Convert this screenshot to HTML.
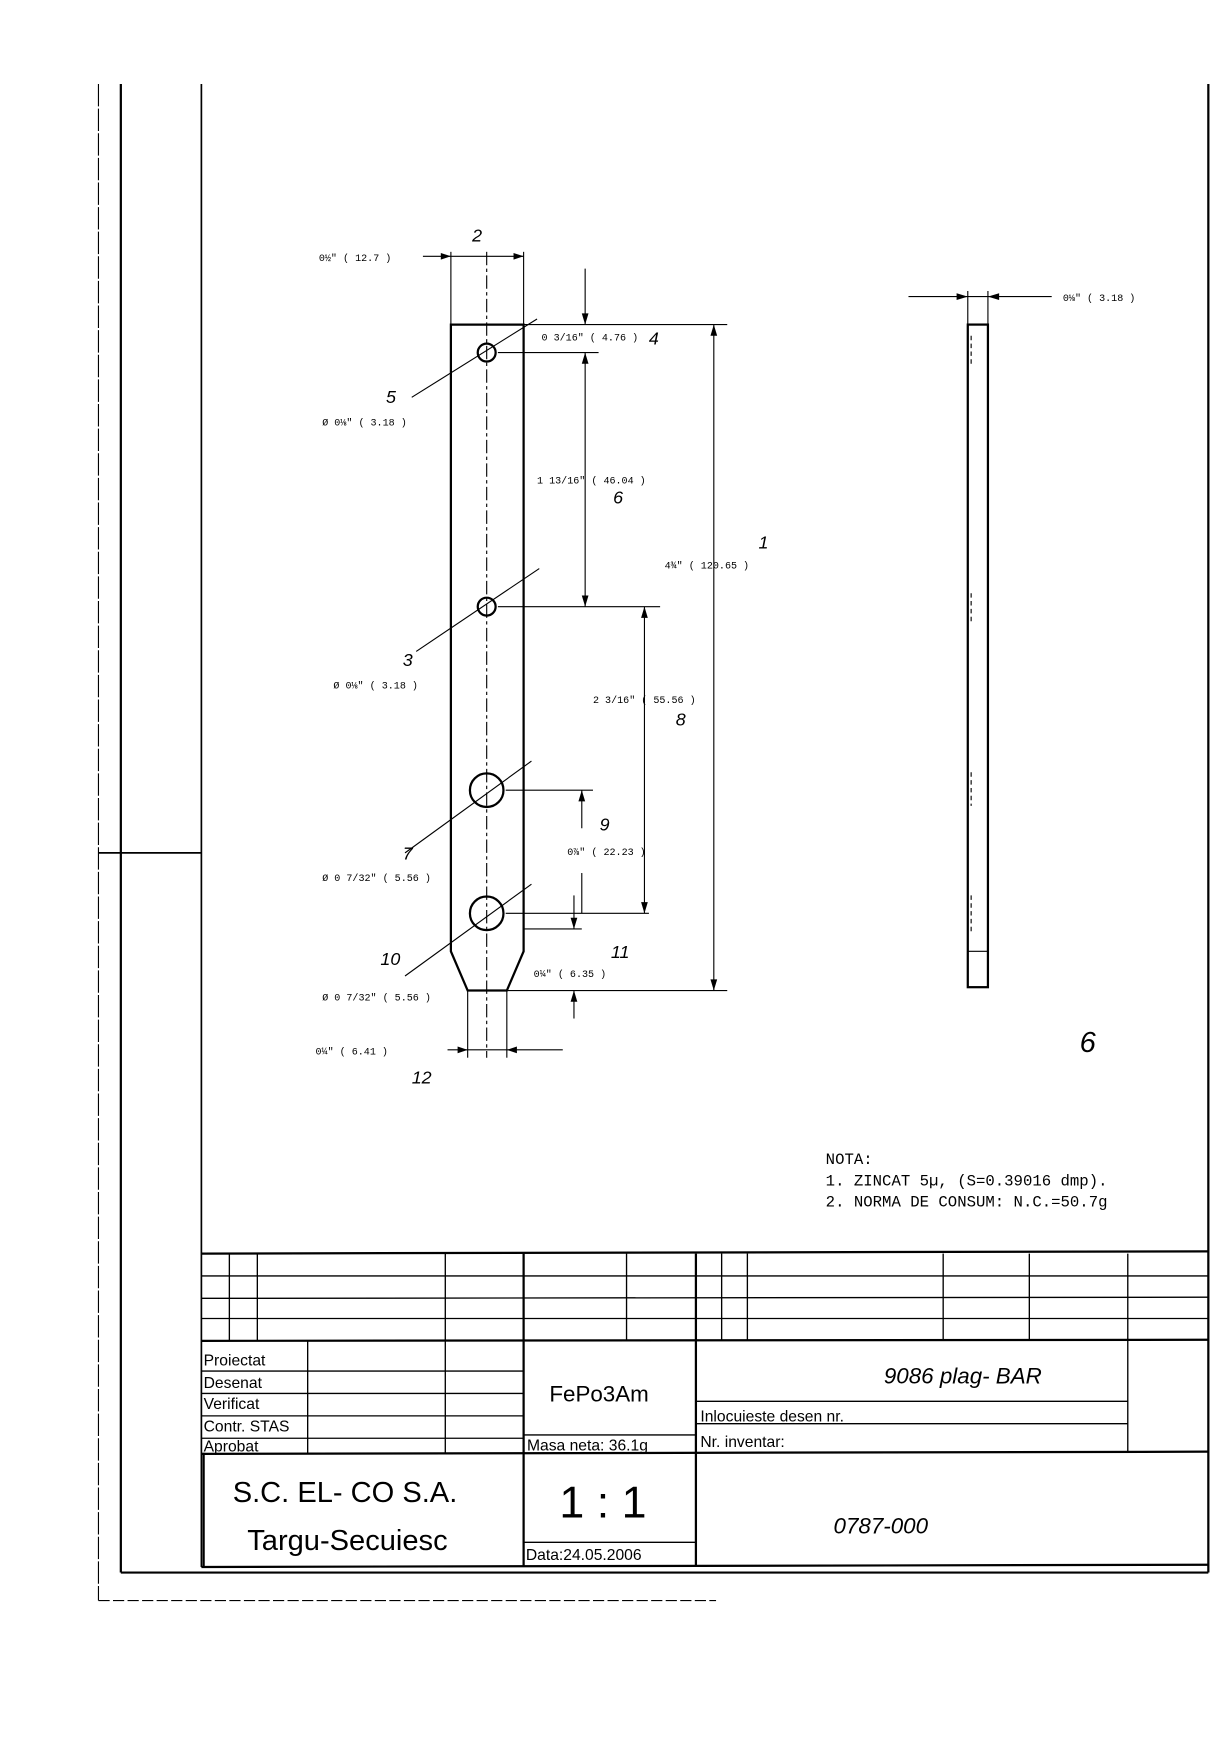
<!DOCTYPE html>
<html><head><meta charset="utf-8"><style>
html,body{margin:0;padding:0;background:#fff;}
svg{display:block;}
text{font-family:"Liberation Sans",sans-serif;fill:#000;}
text.m, .m text{font-family:"Liberation Mono",monospace;}
</style></head><body>
<svg width="1224" height="1755" viewBox="0 0 1094 1568" preserveAspectRatio="none" xmlns="http://www.w3.org/2000/svg">
<g stroke="#000" fill="none">
<line x1="88" y1="75" x2="88" y2="1430" stroke-width="1" stroke-dasharray="20 2"/>
<line x1="108" y1="75" x2="108" y2="1405" stroke-width="2"/>
<line x1="180" y1="75" x2="180" y2="1400" stroke-width="1.5"/>
<line x1="88" y1="762" x2="180" y2="762" stroke-width="1.5"/>
<line x1="108" y1="1405" x2="1080" y2="1405" stroke-width="2"/>
<line x1="1080" y1="75" x2="1080" y2="1405" stroke-width="2"/>
<line x1="88" y1="1430" x2="640" y2="1430" stroke-width="1" stroke-dasharray="10 3"/>
<line x1="180" y1="1120" x2="1080" y2="1118" stroke-width="2"/>
<line x1="180" y1="1140" x2="1080" y2="1140" stroke-width="1.2"/>
<line x1="180" y1="1160" x2="1080" y2="1159" stroke-width="1.2"/>
<line x1="180" y1="1178" x2="1080" y2="1178" stroke-width="1.2"/>
<line x1="180" y1="1198" x2="1080" y2="1197" stroke-width="2"/>
<g stroke-width="1.2">
<line x1="205" y1="1120" x2="205" y2="1198"/><line x1="230" y1="1120" x2="230" y2="1198"/>
<line x1="398" y1="1120" x2="398" y2="1298"/><line x1="468" y1="1120" x2="468" y2="1400" stroke-width="2"/>
<line x1="560" y1="1120" x2="560" y2="1198"/><line x1="622" y1="1120" x2="622" y2="1400" stroke-width="2"/>
<line x1="645" y1="1120" x2="645" y2="1198"/><line x1="668" y1="1120" x2="668" y2="1198"/>
<line x1="843" y1="1120" x2="843" y2="1198"/><line x1="920" y1="1120" x2="920" y2="1198"/>
<line x1="1008" y1="1120" x2="1008" y2="1298"/>
<line x1="275" y1="1198" x2="275" y2="1298"/>
<line x1="180" y1="1225" x2="468" y2="1225"/><line x1="180" y1="1245" x2="468" y2="1245"/>
<line x1="180" y1="1265" x2="468" y2="1265"/><line x1="180" y1="1285" x2="468" y2="1285"/>
<line x1="468" y1="1282" x2="622" y2="1282"/>
<line x1="622" y1="1252" x2="1008" y2="1252"/><line x1="622" y1="1272" x2="1008" y2="1272"/>
<line x1="468" y1="1378" x2="622" y2="1378"/>
</g>
<line x1="180" y1="1299" x2="1080" y2="1297" stroke-width="2"/>
<line x1="182" y1="1298" x2="182" y2="1400" stroke-width="2"/>
<line x1="180" y1="1400" x2="1080" y2="1398" stroke-width="2"/>
<path d="M403 290 H468 V850 L453 885 H418 L403 850 Z" stroke-width="2"/>
<line x1="435" y1="225" x2="435" y2="945" stroke-width="1" stroke-dasharray="12 3 3 3"/>
<circle cx="435" cy="315" r="8" stroke-width="2"/>
<circle cx="435" cy="542" r="8" stroke-width="2"/>
<circle cx="435" cy="706" r="15" stroke-width="2"/>
<circle cx="435" cy="816" r="15" stroke-width="2"/>
<g stroke-width="1">
<line x1="403" y1="225" x2="403" y2="290"/><line x1="468" y1="225" x2="468" y2="290"/>
<line x1="378" y1="229" x2="468" y2="229"/>
<line x1="468" y1="290" x2="650" y2="290"/>
<line x1="445" y1="315" x2="535" y2="315"/>
<line x1="445" y1="542" x2="590" y2="542"/>
<line x1="452" y1="706" x2="530" y2="706"/>
<line x1="452" y1="816" x2="580" y2="816"/>
<line x1="468" y1="830" x2="520" y2="830"/>
<line x1="453" y1="885" x2="650" y2="885"/>
<line x1="523" y1="240" x2="523" y2="290"/><line x1="523" y1="315" x2="523" y2="542"/>
<line x1="638" y1="290" x2="638" y2="885"/>
<line x1="576" y1="542" x2="576" y2="816"/>
<line x1="520" y1="706" x2="520" y2="740"/><line x1="520" y1="780" x2="520" y2="816"/>
<line x1="513" y1="800" x2="513" y2="830"/><line x1="513" y1="885" x2="513" y2="910"/>
<line x1="418" y1="885" x2="418" y2="945"/><line x1="453" y1="885" x2="453" y2="945"/>
<line x1="400" y1="938" x2="503" y2="938"/>
<line x1="368" y1="355" x2="480" y2="285"/>
<line x1="372" y1="582" x2="482" y2="508"/>
<line x1="362" y1="762" x2="475" y2="680"/>
<line x1="362" y1="872" x2="475" y2="790"/>
<rect x="865" y="290" width="18" height="592" stroke-width="2"/>
<line x1="865" y1="260" x2="865" y2="290"/><line x1="883" y1="260" x2="883" y2="290"/>
<line x1="812" y1="265" x2="940" y2="265"/>
<line x1="868" y1="300" x2="868" y2="325" stroke-dasharray="4 3"/>
<line x1="868" y1="530" x2="868" y2="555" stroke-dasharray="4 3"/>
<line x1="868" y1="690" x2="868" y2="720" stroke-dasharray="4 3"/>
<line x1="868" y1="800" x2="868" y2="832" stroke-dasharray="4 3"/>
<line x1="865" y1="850" x2="883" y2="850"/>
</g>
</g>
<g fill="#000">
<path d="M403 229 l-9 -3 v6z"/><path d="M468 229 l-9 -3 v6z"/>
<path d="M523 290 l-3 -10 h6z"/><path d="M523 315 l-3 10 h6z"/><path d="M523 542 l-3 -10 h6z"/>
<path d="M638 290 l-3 10 h6z"/><path d="M638 885 l-3 -10 h6z"/>
<path d="M576 542 l-3 10 h6z"/><path d="M576 816 l-3 -10 h6z"/>
<path d="M520 706 l-3 10 h6z"/><path d="M513 830 l-3 -10 h6z"/><path d="M513 885 l-3 10 h6z"/>
<path d="M418 938 l-9 -3 v6z"/><path d="M453 938 l9 -3 v6z"/>
<path d="M865 265 l-10 -3 v6z"/><path d="M883 265 l10 -3 v6z"/>
</g>
<g class="m" font-size="9">
<text x="285" y="233">0½" ( 12.7 )</text>
<text x="484" y="304">0 3/16" ( 4.76 )</text>
<text x="288" y="380">Ø 0⅛" ( 3.18 )</text>
<text x="480" y="432">1 13/16" ( 46.04 )</text>
<text x="594" y="508">4¾" ( 120.65 )</text>
<text x="298" y="615">Ø 0⅛" ( 3.18 )</text>
<text x="530" y="628">2 3/16" ( 55.56 )</text>
<text x="507" y="764">0⅞" ( 22.23 )</text>
<text x="288" y="787">Ø 0 7/32" ( 5.56 )</text>
<text x="477" y="873">0¼" ( 6.35 )</text>
<text x="288" y="894">Ø 0 7/32" ( 5.56 )</text>
<text x="282" y="942">0¼" ( 6.41 )</text>
<text x="950" y="269">0⅛" ( 3.18 )</text>
</g>
<g font-family="Liberation Serif" font-style="italic" font-size="16">
<text x="422" y="216">2</text><text x="345" y="360">5</text><text x="580" y="308">4</text>
<text x="548" y="450">6</text><text x="678" y="490">1</text><text x="360" y="595">3</text>
<text x="604" y="648">8</text><text x="536" y="742">9</text><text x="360" y="768">7</text>
<text x="340" y="862">10</text><text x="546" y="856">11</text><text x="368" y="968">12</text>
<text x="965" y="940" font-size="26">6</text>
</g>
<g class="m" font-size="14">
<text x="738" y="1040">NOTA:</text>
<text x="738" y="1059">1. ZINCAT 5µ, (S=0.39016 dmp).</text>
<text x="738" y="1078">2. NORMA DE CONSUM: N.C.=50.7g</text>
</g>
<g font-size="14">
<text x="182" y="1220">Proiectat</text><text x="182" y="1240">Desenat</text>
<text x="182" y="1259">Verificat</text><text x="182" y="1279">Contr. STAS</text><text x="182" y="1297">Aprobat</text>
<text x="471" y="1296">Masa neta: 36.1g</text>
<text x="626" y="1270">Inlocuieste desen nr.</text>
<text x="626" y="1293">Nr. inventar:</text>
<text x="470" y="1394">Data:24.05.2006</text>
</g>
<text x="491" y="1252" font-size="20">FePo3Am</text>
<text x="208" y="1342" font-size="26">S.C. EL- CO  S.A.</text>
<text x="221" y="1385" font-size="26">Targu-Secuiesc</text>
<text x="500" y="1356" font-size="40">1 : 1</text>
<text x="790" y="1236" font-size="20" font-family="Liberation Serif" font-style="italic">9086 plag- BAR</text>
<text x="745" y="1370" font-size="20" font-family="Liberation Serif" font-style="italic">0787-000</text>
</svg>
</body></html>
